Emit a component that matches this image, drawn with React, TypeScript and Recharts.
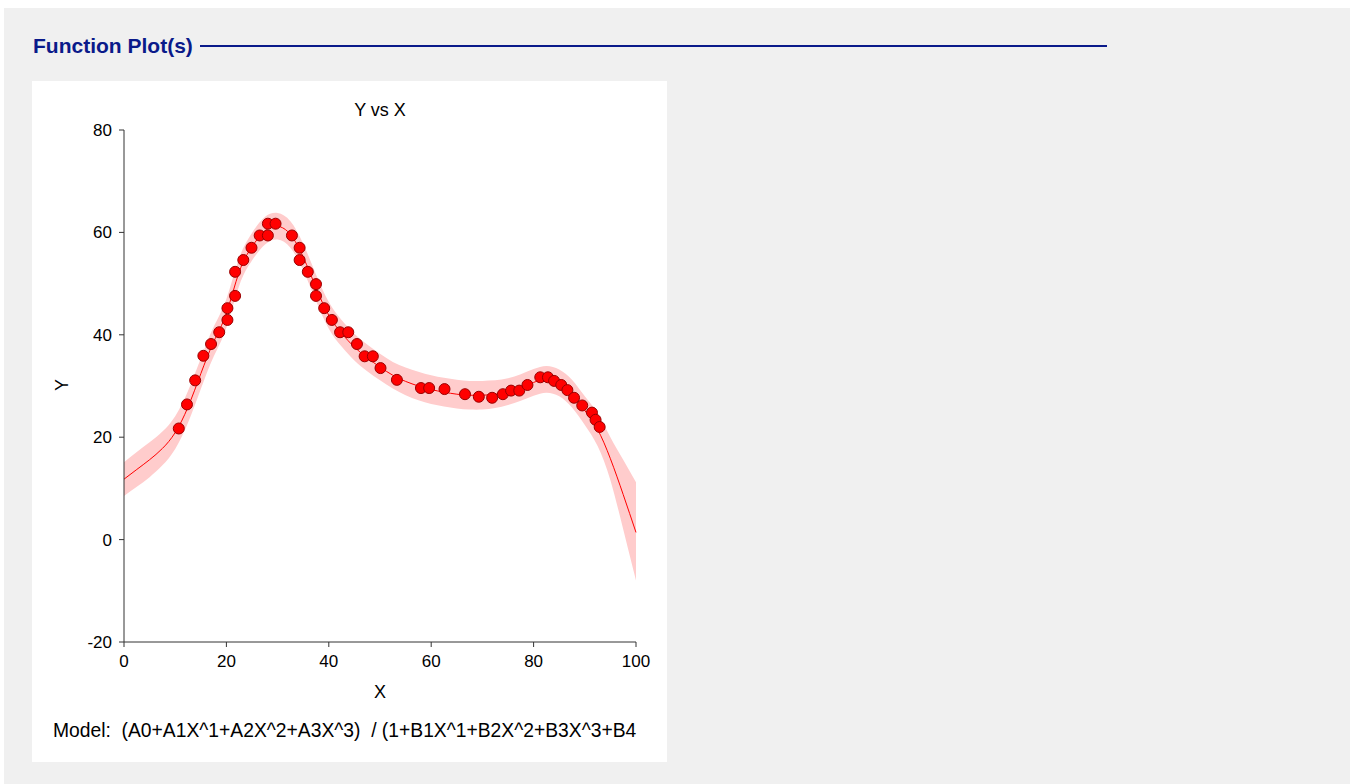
import React from 'react';
import { ComposedChart, Area, Line, Scatter, XAxis, YAxis } from 'recharts';

const obsX = [10.7, 12.3, 13.9, 15.5, 17.0, 18.6, 20.2, 20.2, 21.7, 21.7, 23.3, 24.9, 26.5, 28.1, 28.1, 29.6, 32.8, 34.3, 34.3, 35.9, 37.5, 37.5, 39.1, 40.6, 42.2, 43.8, 45.5, 47.0, 48.6, 50.1, 53.3, 58.0, 59.6, 62.6, 66.6, 69.3, 71.9, 74.0, 75.6, 77.2, 78.8, 81.3, 82.8, 84.0, 85.4, 86.6, 87.9, 89.5, 91.4, 92.1, 92.9];
const obsY = [21.7, 26.4, 31.1, 35.9, 38.2, 40.5, 42.9, 45.2, 47.6, 52.3, 54.6, 57.0, 59.4, 59.4, 61.7, 61.7, 59.4, 57.0, 54.6, 52.3, 49.9, 47.6, 45.2, 42.9, 40.5, 40.5, 38.2, 35.8, 35.8, 33.5, 31.2, 29.6, 29.6, 29.4, 28.4, 27.9, 27.7, 28.4, 29.1, 29.1, 30.2, 31.7, 31.7, 31.0, 30.2, 29.2, 27.7, 26.2, 24.8, 23.4, 22.0];

// fitted curve with its confidence band
const fitX = [0, 2.5, 5, 7.5, 10, 12.5, 15, 17.5, 20, 22.5, 25, 27.5, 30, 32.5, 35, 37.5, 40, 42.5, 45, 47.5, 50, 52.5, 55, 57.5, 60, 62.5, 65, 67.5, 70, 72.5, 75, 77.5, 80, 82.5, 85, 87.5, 90, 92.5, 95, 97.5, 100];
const fitY = [11.8, 13.7, 15.6, 17.8, 20.9, 25.9, 32.4, 38.6, 44.2, 52.3, 57.2, 60.3, 61.2, 59.6, 55.2, 49.2, 43.8, 40.3, 37.6, 35.5, 33.7, 32.1, 30.9, 30.0, 29.3, 28.8, 28.4, 28.2, 28.2, 28.4, 28.9, 29.7, 30.7, 31.3, 30.6, 28.5, 25.2, 21.5, 15.8, 8.8, 1.4];
const bandLo = [8.5, 10.3, 12.2, 14.5, 17.7, 22.8, 29.4, 35.7, 41.4, 49.6, 54.5, 57.6, 58.6, 57.0, 52.6, 46.6, 41.2, 37.7, 35.0, 32.9, 31.1, 29.5, 28.2, 27.2, 26.5, 26.0, 25.6, 25.4, 25.4, 25.7, 26.3, 27.1, 28.1, 28.7, 28.0, 25.8, 22.4, 18.3, 11.6, 2.0, -8.0];
const bandHi = [15.1, 17.1, 19.0, 21.1, 24.1, 29.0, 35.4, 41.5, 47.0, 55.0, 59.9, 63.0, 63.8, 62.2, 57.8, 51.8, 46.4, 42.9, 40.2, 38.1, 36.3, 34.7, 33.6, 32.8, 32.1, 31.6, 31.2, 31.0, 31.0, 31.1, 31.5, 32.3, 33.3, 33.9, 33.2, 31.2, 28.0, 24.7, 20.0, 15.6, 11.2];

const xTicks = [0, 20, 40, 60, 80, 100];
const yTicks = [-20, 0, 20, 40, 60, 80];

const curve = fitX.map((x, i) => ({ x, fit: fitY[i], band: [bandLo[i], bandHi[i]] }));
const points = obsX.map((x, i) => ({ x, y: obsY[i] }));

const font = 'Arial, "Liberation Sans", sans-serif';
const tickStyle = { fontSize: 17, fill: '#000', fontFamily: font };

const Dot = (props: any) => (
    <circle cx={props.cx} cy={props.cy} r={5.5} fill="#ff0000" stroke="#990000" strokeWidth={1} />
);

export default function App() {
    return (
        <div style={{ position: 'absolute', left: 0, top: 0, width: 1354, height: 784, background: '#fff', fontFamily: font }}>
            <div style={{ position: 'absolute', left: 4, top: 8, width: 1346, height: 776, background: '#f0f0f0' }} />
            <div style={{ position: 'absolute', left: 33, top: 33, fontSize: 21, fontWeight: 'bold', color: '#0a1a8a', lineHeight: '26px' }}>
                Function Plot(s)
            </div>
            <div style={{ position: 'absolute', left: 200, top: 45, width: 907, height: 2, background: '#0a1a8a' }} />

            <div style={{ position: 'absolute', left: 32, top: 81, width: 635, height: 681, background: '#fff' }}>
                <ComposedChart width={635} height={681} data={curve} margin={{ top: 49, right: 31, left: 32, bottom: 90 }}>
                    <XAxis
                        dataKey="x"
                        type="number"
                        domain={[0, 100]}
                        ticks={xTicks}
                        height={30}
                        tick={tickStyle}
                        tickSize={5}
                        tickMargin={8}
                        stroke="#333"
                    />
                    <YAxis
                        type="number"
                        domain={[-20, 80]}
                        ticks={yTicks}
                        width={60}
                        tick={tickStyle}
                        tickSize={5}
                        tickMargin={7}
                        stroke="#333"
                    />
                    <Area dataKey="band" type="natural" fill="#ffcccc" fillOpacity={1} stroke="none" isAnimationActive={false} />
                    <Line dataKey="fit" type="natural" stroke="#ff0000" strokeWidth={1} dot={false} isAnimationActive={false} />
                    <Scatter data={points} dataKey="y" shape={Dot} isAnimationActive={false} />
                </ComposedChart>
                <div style={{ position: 'absolute', left: 248, top: 19, width: 200, textAlign: 'center', fontSize: 18 }}>Y vs X</div>
                <div style={{ position: 'absolute', left: 248, top: 601, width: 200, textAlign: 'center', fontSize: 18 }}>X</div>
                <div style={{ position: 'absolute', left: 20, top: 294, width: 20, height: 20, textAlign: 'center', fontSize: 18, transform: 'rotate(-90deg)' }}>Y</div>
                <div style={{ position: 'absolute', left: 21, top: 639, fontSize: 19.3, whiteSpace: 'pre' }}>
                    {'Model:  (A0+A1X^1+A2X^2+A3X^3)  / (1+B1X^1+B2X^2+B3X^3+B4'}
                </div>
            </div>
        </div>
    );
}
